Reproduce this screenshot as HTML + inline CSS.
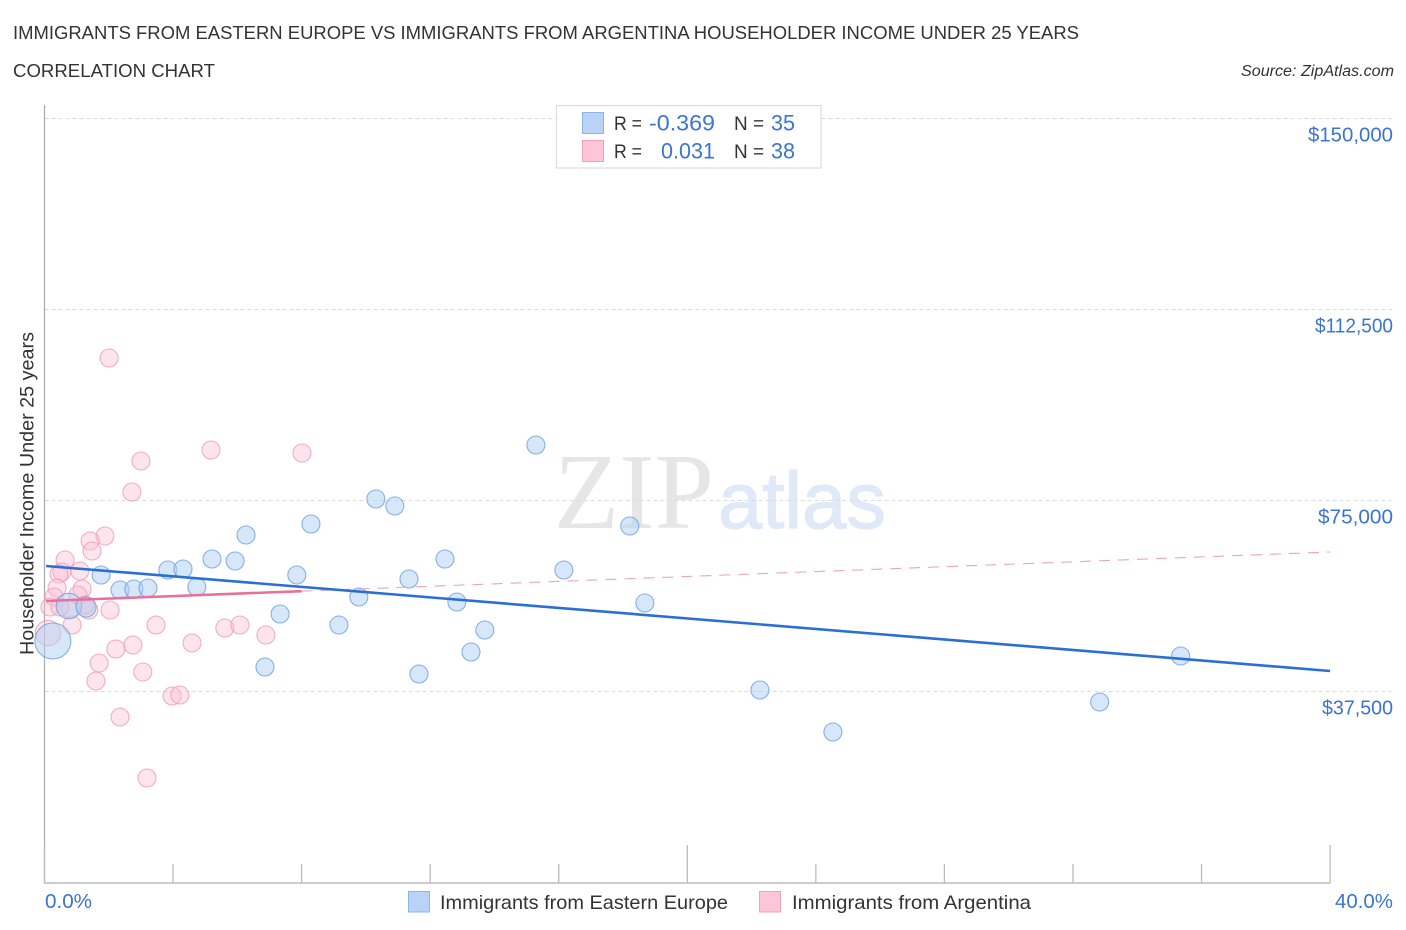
<!DOCTYPE html>
<html lang="en">
<head>
<meta charset="utf-8">
<title>Immigrants from Eastern Europe vs Immigrants from Argentina Householder Income Under 25 Years</title>
<style>
html,body{margin:0;padding:0;background:#fff;width:1406px;height:930px;overflow:hidden}
svg{display:block}
text{font-family:"Liberation Sans",sans-serif}
</style>
</head>
<body>
<svg id="chart" width="1406" height="930" viewBox="0 0 1406 930" xmlns="http://www.w3.org/2000/svg">
  <text x="13" y="39" font-size="18.5" fill="#333" textLength="1066" lengthAdjust="spacingAndGlyphs">IMMIGRANTS FROM EASTERN EUROPE VS IMMIGRANTS FROM ARGENTINA HOUSEHOLDER INCOME UNDER 25 YEARS</text>
  <text x="13" y="77" font-size="18.5" fill="#333" textLength="202" lengthAdjust="spacingAndGlyphs">CORRELATION CHART</text>
  <text x="1241" y="76" font-size="15.5" font-style="italic" fill="#333" textLength="153" lengthAdjust="spacingAndGlyphs">Source: ZipAtlas.com</text>

  <g>
    <text x="554" y="528" font-size="108" fill="#e6e6e6" textLength="160" lengthAdjust="spacingAndGlyphs" style="font-family:'Liberation Serif',serif">ZIP</text>
    <text x="718" y="528" font-size="80" fill="#dfe9f8" stroke="#dfe9f8" stroke-width="1.2" textLength="168" lengthAdjust="spacingAndGlyphs">atlas</text>
  </g>

  <g id="grid"></g>
  <g id="axes"></g>
  <g id="pink"></g>
  <g id="blue"></g>
  <g id="trends"></g>

  <text transform="translate(33.5,655) rotate(-90)" font-size="19" fill="#333" textLength="323" lengthAdjust="spacingAndGlyphs">Householder Income Under 25 years</text>

  <g>
    <rect x="556.5" y="105.5" width="264.5" height="62.5" fill="#fff" stroke="#dcdcdc" stroke-width="1.2"/>
    <rect x="582.5" y="112.5" width="21" height="21" fill="#b8d3f6" stroke="#8ab4ea" stroke-width="1"/>
    <rect x="582.5" y="140.5" width="21" height="21" fill="#fcc5d8" stroke="#f2a0bc" stroke-width="1"/>
    <text x="614" y="130" font-size="19.5" fill="#333" textLength="28" lengthAdjust="spacingAndGlyphs">R =</text>
    <text x="649" y="130.5" font-size="22" fill="#3a74d4" textLength="66" lengthAdjust="spacingAndGlyphs">-0.369</text>
    <text x="734" y="130" font-size="19.5" fill="#333" textLength="30" lengthAdjust="spacingAndGlyphs">N =</text>
    <text x="771" y="130.5" font-size="22" fill="#3a74d4" textLength="24" lengthAdjust="spacingAndGlyphs">35</text>
    <text x="614" y="158" font-size="19.5" fill="#333" textLength="28" lengthAdjust="spacingAndGlyphs">R =</text>
    <text x="661" y="158.5" font-size="22" fill="#3a74d4" textLength="54" lengthAdjust="spacingAndGlyphs">0.031</text>
    <text x="734" y="158" font-size="19.5" fill="#333" textLength="30" lengthAdjust="spacingAndGlyphs">N =</text>
    <text x="771" y="158.5" font-size="22" fill="#3a74d4" textLength="24" lengthAdjust="spacingAndGlyphs">38</text>
  </g>

  <g>
    <rect x="408.5" y="891.5" width="21" height="20.5" fill="#b8d3f6" stroke="#8ab4ea" stroke-width="1"/>
    <text x="440" y="909" font-size="19.5" fill="#333" textLength="288" lengthAdjust="spacingAndGlyphs">Immigrants from Eastern Europe</text>
    <rect x="759.5" y="891.5" width="21" height="20.5" fill="#fcc5d8" stroke="#f2a0bc" stroke-width="1"/>
    <text x="792" y="909" font-size="19.5" fill="#333" textLength="239" lengthAdjust="spacingAndGlyphs">Immigrants from Argentina</text>
  </g>
</svg>
<script>
const xTickPercents = [0, 4, 8, 12, 16, 20, 24, 28, 32, 36, 40];
const xMajorTicks = [0, 20, 40];
const xEndLabels = ['0.0%', '40.0%'];
const yTickValues = [37500, 75000, 112500, 150000];
const yTickLabels = ['$37,500', '$75,000', '$112,500', '$150,000'];

const blueX = [15.29,10.31,10.90,8.29,6.27,18.21,12.46,5.21,5.93,3.84,4.31,1.76,7.85,11.34,16.16,2.35,2.78,3.22,4.74,9.78,12.83,18.68,0.76,1.29,7.33,9.16,13.70,6.86,11.65,13.27,35.35,22.26,32.83,24.53,0.26];
const blueIncome = [85800,75198,73824,70290,68130,69897,63418,63418,63025,61258,61454,60276,60276,59491,61258,57331,57528,57724,57920,55957,54975,54779,54190,53994,52619,50459,49478,42213,40839,45158,44373,37697,35341,29451,47318];
const blueWeight = [1,1,1,1,1,1,1,1,1,1,1,1,1,1,1,1,1,1,1,1,1,1,2,1.25,1,1,1,1,1,1,1,1,1,1,4];

const pinkX = [2.01,5.18,8.01,3.00,2.72,1.88,1.42,1.48,0.64,1.10,0.54,0.45,0.39,1.17,0.30,1.04,0.17,0.79,1.38,2.04,0.86,0.11,3.47,2.75,2.22,1.70,1.60,3.06,4.59,5.61,6.08,6.89,3.97,4.21,2.35,3.19,0.48,1.26];
const pinkIncome = [102882,84819,84230,82659,76573,67934,66952,64989,63221,61062,60865,60473,57724,57528,55957,56350,53994,53601,53404,53404,50459,48889,50459,46533,45747,42998,39464,41231,46925,49870,50459,48496,36519,36716,32396,20419,53994,54386];
const pinkWeight = [1,1,1,1,1,1,1,1,1,1,1,1,1,1,1,1,1,1,1,1,1,2,1,1,1,1,1,1,1,1,1,1,1,1,1,1,1,1];

const blueTrendX = [0.05, 40];
const blueTrendIncome = [62043, 41428];
const pinkSolidX = [0.05, 8];
const pinkSolidIncome = [55172, 57100];
const pinkDashX = [8, 40];
const pinkDashIncome = [57100, 64792];

const NS = 'http://www.w3.org/2000/svg';
const xScale = p => 44.5 + p * 32.14;
const yScale = v => 882 - v * 191 / 37500;
const baseRadius = 9;
const tickLabelWidth = text => (text === '$37,500' ? 71 : text === '$75,000' ? 75 : text === '$112,500' ? 78 : 85);

function make(tag, parent, props) {
  const el = document.createElementNS(NS, tag);
  for (const k in props) el.setAttribute(k, props[k]);
  document.getElementById(parent).appendChild(el);
  return el;
}

yTickValues.forEach((v, i) => {
  const line = make('line', 'grid', {x1: 44.5, x2: 1393, y1: yScale(v) + 0.5, y2: yScale(v) + 0.5, stroke: '#dcdcdc', 'stroke-width': 1, 'stroke-dasharray': '4 3'});
  
  
  const label = make('text', 'axes', {x: 1393, y: yScale(v) + 23.5, 'font-size': 20, fill: '#3a74d4', 'text-anchor': 'end', textLength: tickLabelWidth(yTickLabels[i]), lengthAdjust: 'spacingAndGlyphs'});
  label.textContent = yTickLabels[i];
  
  
});

const yAxis = make('line', 'axes', {x1: 44.5, x2: 44.5, y1: 105, y2: 883.5, stroke: '#aaa', 'stroke-width': 1.2});


const xAxis = make('line', 'axes', {x1: 44, x2: xScale(40), y1: 883, y2: 883, stroke: '#bbb', 'stroke-width': 1.4});



xTickPercents.forEach(p => {
  const top = xMajorTicks.includes(p) ? 845 : 864;
  const tick = make('line', 'axes', {x1: xScale(p), x2: xScale(p), y1: top, y2: 883, stroke: '#bbb', 'stroke-width': 1.3});
  
  
});

const xLabelStart = make('text', 'axes', {x: 45, y: 908, 'font-size': 20, fill: '#3a74d4', textLength: 47, lengthAdjust: 'spacingAndGlyphs'});
xLabelStart.textContent = xEndLabels[0];


const xLabelEnd = make('text', 'axes', {x: 1393, y: 908, 'font-size': 20, fill: '#3a74d4', 'text-anchor': 'end', textLength: 58, lengthAdjust: 'spacingAndGlyphs'});
xLabelEnd.textContent = xEndLabels[1];



pinkX.forEach((p, i) => {
  const c = make('circle', 'pink', {cx: xScale(p), cy: yScale(pinkIncome[i]), r: baseRadius * Math.sqrt(pinkWeight[i]), fill: 'rgba(250,190,212,0.42)', stroke: 'rgba(240,154,182,0.8)', 'stroke-width': 1.1});
  
  
});
blueX.forEach((p, i) => {
  const c = make('circle', 'blue', {cx: xScale(p), cy: yScale(blueIncome[i]), r: baseRadius * Math.sqrt(blueWeight[i]), fill: 'rgba(176,208,245,0.5)', stroke: 'rgba(106,159,226,0.8)', 'stroke-width': 1.1});
  
  
});

const pinkDash = make('line', 'trends', {x1: xScale(pinkDashX[0]), y1: yScale(pinkDashIncome[0]), x2: xScale(pinkDashX[1]), y2: yScale(pinkDashIncome[1]), stroke: '#eba4bc', 'stroke-width': 1.1, 'stroke-dasharray': '11 8'});


const pinkSolid = make('line', 'trends', {x1: xScale(pinkSolidX[0]), y1: yScale(pinkSolidIncome[0]), x2: xScale(pinkSolidX[1]), y2: yScale(pinkSolidIncome[1]), stroke: '#e8709a', 'stroke-width': 2.6});


const blueTrend = make('line', 'trends', {x1: xScale(blueTrendX[0]), y1: yScale(blueTrendIncome[0]), x2: xScale(blueTrendX[1]), y2: yScale(blueTrendIncome[1]), stroke: '#2a6fd6', 'stroke-width': 2.6});


</script>
</body>
</html>
